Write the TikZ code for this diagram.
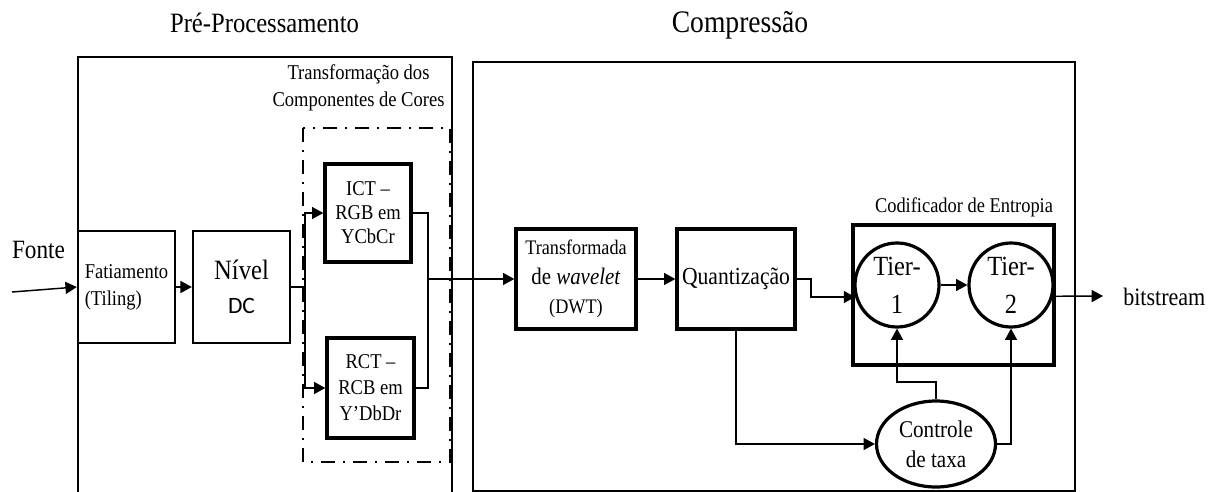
\documentclass[tikz,border=0pt]{standalone}
\usepackage{fontspec}
\setmainfont{Liberation Serif}[FakeStretch=0.88]
\newfontfamily\dcfont{Carlito}
\usetikzlibrary{arrows.meta,shapes.geometric}
\newcommand{\setfs}[2]{\fontsize{#1pt}{#2pt}\selectfont}

\begin{document}
\begin{tikzpicture}[x=0.75pt,y=-0.75pt,
  conn/.style={line width=1.1pt},
  arr/.style={conn,-{Triangle[length=8.5pt,width=9pt]}},
  frame/.style={line width=1.1pt},
  blk/.style={draw,line width=1.8pt,inner sep=0pt,align=center},
  hblk/.style={draw,line width=2.5pt,inner sep=0pt,align=center},
  tier/.style={circle,draw,line width=2.4pt,inner sep=0pt,minimum size=63pt,align=center,font=\setfs{20.8}{28.5}},
  lbl/.style={inner sep=0pt}]

\useasboundingbox (0,0) rectangle (1216,492);

% stage frames
\draw[frame] (78,492) -- (78,57) -- (452,57) -- (452,492);
\draw[frame] (473,62) rectangle (1075,491);
\draw[line width=1.8pt, dash pattern=on 10.5pt off 6pt on 1.5pt off 6pt] (303,128) rectangle (450,462);

% titles and labels
\node[lbl,anchor=base,font=\setfs{21}{26}] (tpre) at (264.5,33) {Pré-Processamento};
\node[lbl,anchor=base,font=\setfs{23.5}{28}] (tcomp) at (740,33) {Compressão};
\node[lbl,align=center,font=\setfs{15.8}{20.25}] (tcc) at (358.5,88) {Transformação dos\\Componentes de Cores};
\node[lbl,anchor=base,font=\setfs{15.7}{19}] (tent) at (964,212) {Codificador de Entropia};
\node[lbl,anchor=base,font=\setfs{19.8}{24}] (fonte) at (38.5,258) {Fonte};
\node[lbl,anchor=base west,font=\setfs{18.8}{23}] (bs) at (1123,305) {bitstream};
\coordinate (src) at (12,292);
\coordinate (bsin) at (1103,296);

% pre-processing blocks
\node[blk,minimum width=72.75pt,minimum height=84pt,align=left,font=\setfs{15.8}{20}] (fat) at (126.5,287) {Fatiamento\\(Tiling)};
\node[blk,minimum width=72.75pt,minimum height=84pt,font=\setfs{21}{25}] (dc) at (241.5,287) {Nível\\{\dcfont\setfs{17.6}{25}DC}};
\node[hblk,minimum width=64.5pt,minimum height=73.5pt,font=\setfs{15.8}{18}] (ict) at (368,213) {ICT –\\RGB em\\YCbCr};
\node[hblk,minimum width=65.25pt,minimum height=75pt,font=\setfs{15.8}{19.5}] (rct) at (370.5,388) {RCT –\\RCB em\\Y’DbDr};

% compression blocks
\node[hblk,minimum width=90pt,minimum height=75pt,font=\setfs{15.5}{22}] (dwt) at (576,279) {Transformada\\{\setfs{17.8}{22}de \textit{wavelet}}\\(DWT)};
\node[hblk,minimum width=88.5pt,minimum height=75pt,font=\setfs{18.4}{22}] (qz) at (736,279) {Quantização};
\node[draw,line width=2.6pt,inner sep=0pt,minimum width=150.75pt,minimum height=105pt] (ent) at (953.5,295) {};
\node[tier] (t1) at (897,285) {Tier-\\1};
\node[tier] (t2) at (1011,285) {Tier-\\2};
\node[ellipse,draw,line width=2.4pt,inner sep=0pt,minimum width=89.25pt,minimum height=64.5pt,align=center,font=\setfs{18}{22.5}] (ctl) at (936,444) {Controle\\de taxa};

% connectors
\coordinate (split) at (305,287);
\coordinate (merge) at (428,279);
\coordinate (qzbend) at (811,279);
\coordinate (ctlup) at (936,382);
\draw[arr] (src) -- (fat.west);
\draw[arr] (fat.east) -- (dc.west);
\draw[conn] (dc.east) -- (split);
\draw[arr] (split) |- (ict.west);
\draw[arr] (split) |- (rct.west);
\draw[conn] (ict.east) -| (merge);
\draw[conn] (rct.east) -| (merge);
\draw[arr] (merge) -- (dwt.west);
\draw[arr] (dwt.east) -- (qz.west);
\draw[arr] (qz.east) -- (qzbend) |- (t1.196.6);
\draw[arr] (t1.east) -- (t2.west);
\draw[arr] (t2.-15) -- (bsin);
\draw[arr] (qz.south) |- (ctl.west);
\draw[arr] (ctl.north) -- (ctlup) -| (t1.south);
\draw[arr] (ctl.east) -| (t2.south);
\end{tikzpicture}
\end{document}
